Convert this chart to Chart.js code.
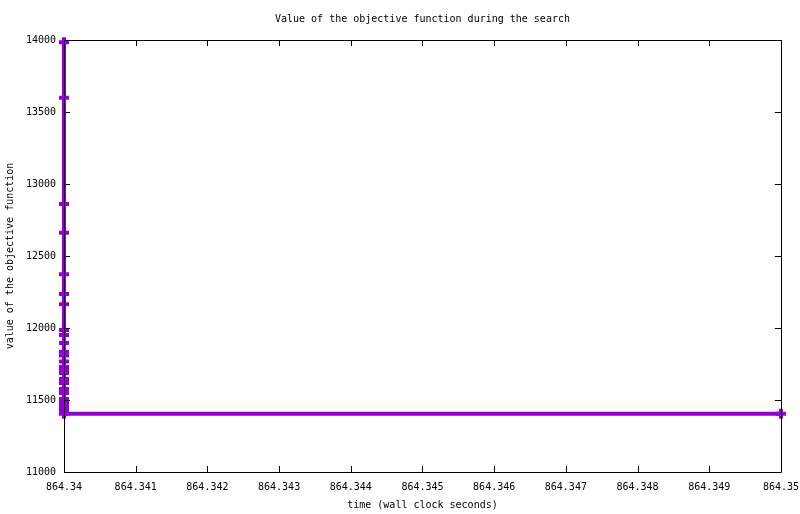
<!DOCTYPE html>
<html>
<head>
<meta charset="utf-8">
<script src="https://cdn.jsdelivr.net/npm/chart.js@4"></script>
<style>
html,body{margin:0;padding:0;background:#fff;}
#wrap{width:800px;height:514px;}
</style>
</head>
<body>
<div id="wrap"><canvas id="c" width="800" height="514"></canvas></div>
<script>
const titleText = "Value of the objective function during the search";
const xTitle = "time (wall clock seconds)";
const yTitle = "value of the objective function";
const timeValues = [864.34,864.34,864.34,864.34,864.34,864.34,864.34,864.34,864.34,864.34,864.34,864.34,864.34,864.34,864.34,864.34,864.34,864.34,864.34,864.34,864.34,864.34,864.34,864.34,864.34,864.35];
const objectiveValues = [13985,13599,12861,12662,12373,12236,12165,11986,11951,11896,11835,11809,11767,11729,11701,11688,11646,11618,11576,11549,11507,11479,11451,11431,11405,11405];
const xTickValues = [864.34,864.341,864.342,864.343,864.344,864.345,864.346,864.347,864.348,864.349,864.35];
const yTickValues = [11000,11500,12000,12500,13000,13500,14000];

const FONT = "'DejaVu Sans Mono', monospace";
const points = timeValues.map((t,i)=>({x:t,y:objectiveValues[i]}));

const frame = {
  id:'frame',
  afterDatasetsDraw(chart){
    const {ctx, chartArea:a, scales:{x,y}} = chart;
    ctx.save();
    ctx.strokeStyle = '#000';
    ctx.lineWidth = 1;
    ctx.beginPath();
    ctx.rect(Math.round(a.left)+0.5, Math.round(a.top)+0.5, Math.round(a.right-a.left), Math.round(a.bottom-a.top));
    const tl = 6;
    x.ticks.forEach(t=>{
      const px = Math.round(x.getPixelForValue(t.value))+0.5;
      ctx.moveTo(px, a.bottom); ctx.lineTo(px, a.bottom-tl);
      ctx.moveTo(px, a.top); ctx.lineTo(px, a.top+tl);
    });
    y.ticks.forEach(t=>{
      const py = Math.round(y.getPixelForValue(t.value))+0.5;
      ctx.moveTo(a.left, py); ctx.lineTo(a.left+tl, py);
      ctx.moveTo(a.right, py); ctx.lineTo(a.right-tl, py);
    });
    ctx.stroke();
    ctx.restore();
  }
};

new Chart(document.getElementById('c'), {
  type:'line',
  data:{datasets:[{
    data:points,
    borderColor:'#9400D3',
    backgroundColor:'#9400D3',
    borderWidth:4,
    pointStyle:'cross',
    pointRadius:5,
    pointBorderWidth:4,
    pointBorderColor:'#9400D3',
    fill:false,
    tension:0,
    clip:false
  }]},
  options:{
    responsive:false,
    animation:false,
    devicePixelRatio:1,
    layout:{padding:{left:0,right:10,top:0,bottom:0}},
    plugins:{
      legend:{display:false},
      tooltip:{enabled:false},
      title:{display:true,fullSize:false,text:titleText,color:'#000',font:{family:FONT,size:10,weight:'normal',lineHeight:1.2},padding:{top:13,bottom:15}}
    },
    scales:{
      x:{
        type:'linear',
        min:864.34, max:864.35,
        afterBuildTicks(s){ s.ticks = xTickValues.map(v=>({value:v})); },
        afterFit(s){ s.height = 42; },
        grid:{display:false},
        border:{display:false},
        ticks:{color:'#000',font:{family:FONT,size:10},padding:1,maxRotation:0,autoSkip:false,
          callback:(v)=>String(Number(v.toFixed(3)))},
        title:{display:true,text:xTitle,color:'#000',font:{family:FONT,size:10,lineHeight:1.2},padding:{top:0,bottom:3}}
      },
      y:{
        type:'linear',
        min:11000, max:14000,
        afterBuildTicks(s){ s.ticks = yTickValues.map(v=>({value:v})); },
        afterFit(s){ s.width = 64; },
        grid:{display:false},
        border:{display:false},
        ticks:{color:'#000',font:{family:FONT,size:10},padding:0,autoSkip:false,callback:(v)=>String(v)},
        title:{display:true,text:yTitle,color:'#000',font:{family:FONT,size:10,lineHeight:1.2},padding:{top:4,bottom:0}}
      }
    }
  },
  plugins:[frame]
});
</script>
</body>
</html>
